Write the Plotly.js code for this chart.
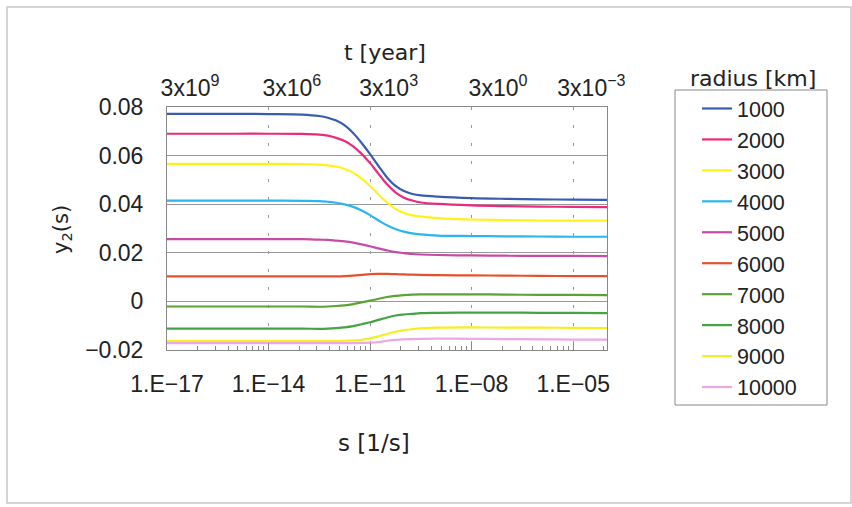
<!DOCTYPE html>
<html>
<head>
<meta charset="utf-8">
<script src="https://cdn.plot.ly/plotly-3.0.1.min.js"></script>
<style>html,body{margin:0;padding:0;background:#fff;}#chart{width:852px;height:507px;}</style>
</head>
<body>
<div id="chart"></div>
<script>
// exponents of s [1/s]
const sExp = [-17,-16,-15,-14,-13,-12.5,-12.25,-12,-11.75,-11.5,-11.25,-11,-10.75,-10.5,-10.25,-10,-9.75,-9.5,-9,-8,-7,-6,-5,-4];
const radii = ["1000","2000","3000","4000","5000","6000","7000","8000","9000","10000"];
const y1000  = [0.0772,0.0772,0.0772,0.0771,0.0769,0.0763,0.0756,0.0744,0.0724,0.0693,0.0652,0.0606,0.0557,0.0510,0.0475,0.0454,0.0442,0.0436,0.0431,0.0425,0.0422,0.0420,0.0419,0.0418];
const y2000  = [0.0690,0.0690,0.0690,0.0690,0.0689,0.0686,0.0682,0.0673,0.0660,0.0638,0.0607,0.0569,0.0525,0.0482,0.0449,0.0427,0.0415,0.0407,0.0401,0.0395,0.0392,0.0390,0.0389,0.0388];
const y3000  = [0.0566,0.0566,0.0566,0.0566,0.0565,0.0563,0.0560,0.0555,0.0545,0.0530,0.0505,0.0475,0.0440,0.0407,0.0381,0.0364,0.0354,0.0349,0.0343,0.0337,0.0335,0.0333,0.0332,0.0332];
const y4000  = [0.0415,0.0415,0.0415,0.0415,0.0414,0.0413,0.0410,0.0406,0.0399,0.0389,0.0374,0.0355,0.0333,0.0313,0.0298,0.0287,0.0280,0.0276,0.0271,0.0269,0.0268,0.0267,0.0266,0.0266];
const y5000  = [0.0256,0.0256,0.0256,0.0256,0.0256,0.0254,0.0253,0.0250,0.0247,0.0242,0.0235,0.0227,0.0218,0.0210,0.0203,0.0199,0.0195,0.0193,0.0191,0.0189,0.0188,0.0187,0.0187,0.0186];
const y6000  = [0.0103,0.0103,0.0103,0.0103,0.0103,0.0103,0.0103,0.0103,0.0104,0.0106,0.0109,0.0112,0.0113,0.0113,0.0112,0.0111,0.0110,0.0109,0.0108,0.0107,0.0106,0.0105,0.0104,0.0104];
const y7000  = [-0.0021,-0.0021,-0.0021,-0.0021,-0.0021,-0.0022,-0.0021,-0.0019,-0.0016,-0.0011,-0.0004,0.0003,0.0011,0.0018,0.0023,0.0026,0.0028,0.0029,0.0029,0.0029,0.0028,0.0027,0.0027,0.0026];
const y8000  = [-0.0112,-0.0112,-0.0112,-0.0112,-0.0112,-0.0113,-0.0112,-0.0110,-0.0107,-0.0102,-0.0094,-0.0086,-0.0076,-0.0066,-0.0058,-0.0054,-0.0051,-0.0048,-0.0047,-0.0046,-0.0046,-0.0047,-0.0047,-0.0048];
const y9000  = [-0.0163,-0.0163,-0.0163,-0.0163,-0.0163,-0.0163,-0.0163,-0.0163,-0.0162,-0.0161,-0.0158,-0.0152,-0.0144,-0.0134,-0.0125,-0.0118,-0.0114,-0.0111,-0.0108,-0.0107,-0.0108,-0.0108,-0.0109,-0.0110];
const y10000 = [-0.0172,-0.0172,-0.0172,-0.0172,-0.0172,-0.0172,-0.0172,-0.0172,-0.0172,-0.0172,-0.0171,-0.0170,-0.0167,-0.0162,-0.0158,-0.0156,-0.0155,-0.0154,-0.0153,-0.0154,-0.0155,-0.0156,-0.0157,-0.0157];
const seriesY = [y1000,y2000,y3000,y4000,y5000,y6000,y7000,y8000,y9000,y10000];
const colors = ["#3a5cae","#ec2a7c","#fff21a","#2ab6ee","#c84aa8","#e8502a","#5ca234","#44a444","#f4ee22","#eaa8e4"];

const xTickVals = [1e-17,1e-14,1e-11,1e-8,1e-5];
const xTickText = ["1.E\u221217","1.E\u221214","1.E\u221211","1.E\u221208","1.E\u221205"];
const tTickPos = [-16.32,-13.31,-10.45,-7.22,-4.46]; // log10 s where the t labels sit
const tTickText = ["3x10<sup>9</sup>","3x10<sup>6</sup>","3x10<sup>3</sup>","3x10<sup>0</sup>","3x10<sup>\u22123</sup>"];

const sVals = sExp.map(e => Math.pow(10, e));
// minor ticks: log pattern inside each 3-decade block
const minorVals = [];
for (let b = -17; b < -4; b += 3) {
  for (let k = 2; k <= 9; k++) {
    const v = b + 3 * Math.log10(k);
    if (v < -4) minorVals.push(Math.pow(10, v));
  }
}

const NUMFONT = "Liberation Sans, Arial, sans-serif";
const TXTFONT = "DejaVu Sans, Verdana, sans-serif";
const traces = radii.map((r, i) => ({
  x: sVals, y: seriesY[i], name: r, type: "scatter", mode: "lines",
  line: {color: colors[i], width: 2.2, shape: "spline", smoothing: 0.9},
  hoverinfo: "x+y+name"
}));
traces.push({x: tTickPos.map(e => Math.pow(10, e)), y: tTickPos.map(() => null), xaxis: "x2", yaxis: "y",
  type: "scatter", mode: "lines", showlegend: false, hoverinfo: "skip"});

// pixel -> paper helpers (plot area 167..607 x 107..350)
const px = v => (v - 167) / 440;
const py = v => (350 - v) / 243;

const layout = {
  width: 852, height: 507,
  margin: {l: 167, r: 245, t: 107, b: 157},
  paper_bgcolor: "#ffffff", plot_bgcolor: "#ffffff",
  font: {family: NUMFONT, size: 23, color: "#222"},
  showlegend: true,
  xaxis: {
    type: "log", range: [-17, -4],
    tickmode: "array", tickvals: xTickVals, ticktext: xTickText,
    ticks: "inside", ticklen: 7, tickcolor: "#888",
    ticklabelstandoff: 13,
    showgrid: true, gridcolor: "#999", griddash: "3px,15px", gridwidth: 1,
    minor: {tickmode: "array", tickvals: minorVals, ticks: "inside", ticklen: 4, tickcolor: "#888", showgrid: false},
    showline: true, linecolor: "#888", linewidth: 1, mirror: false,
    zeroline: false, tickfont: {size: 23, family: NUMFONT}
  },
  xaxis2: {
    type: "log", range: [-17, -4], overlaying: "x", side: "top", anchor: "y",
    tickmode: "array", tickvals: tTickPos.map(e => Math.pow(10, e)), ticktext: tTickText,
    ticks: "", showgrid: false, showline: true, linecolor: "#888", linewidth: 1,
    ticklabelstandoff: 1,
    tickfont: {size: 23, family: NUMFONT}
  },
  yaxis: {
    range: [-0.02, 0.08], dtick: 0.02, tick0: 0,
    showgrid: true, gridcolor: "#999", gridwidth: 1,
    zeroline: false, showline: true, linecolor: "#888", linewidth: 1, mirror: true,
    ticks: "", ticklabelstandoff: 18,
    tickfont: {size: 23, family: NUMFONT}
  },
  legend: {
    x: px(697), y: py(88), xanchor: "left", yanchor: "top",
    borderwidth: 0, bgcolor: "rgba(0,0,0,0)", maxheight: 420,
    font: {size: 21.5, color: "#222", family: NUMFONT}, tracegroupgap: 0
  },
  annotations: [
    {text: "t [year]", xref: "paper", yref: "paper", x: px(385), y: py(52),
     xanchor: "center", yanchor: "middle", showarrow: false, font: {size: 22, family: TXTFONT}},
    {text: "s [1/s]", xref: "paper", yref: "paper", x: px(374), y: py(443),
     xanchor: "center", yanchor: "middle", showarrow: false, font: {size: 23, family: TXTFONT}},
    {text: "y<sub>2</sub>(s)", xref: "paper", yref: "paper", x: px(62), y: py(230), textangle: -90,
     xanchor: "center", yanchor: "middle", showarrow: false, font: {size: 21, family: TXTFONT}},
    {text: "radius [km]", xref: "paper", yref: "paper", x: px(753), y: py(78),
     xanchor: "center", yanchor: "middle", showarrow: false, font: {size: 22, family: TXTFONT}}
  ],
  shapes: [
    {type: "rect", xref: "paper", yref: "paper",
     x0: px(7), x1: px(851), y0: py(503), y1: py(7),
     line: {color: "#c8c8c8", width: 1.5}, fillcolor: "rgba(0,0,0,0)", layer: "below"},
    {type: "rect", xref: "paper", yref: "paper",
     x0: px(675), x1: px(827), y0: py(405), y1: py(90),
     line: {color: "#888", width: 1}, fillcolor: "rgba(0,0,0,0)", layer: "below"}
  ]
};

Plotly.newPlot("chart", traces, layout, {displayModeBar: false, staticPlot: true});
</script>
</body>
</html>
